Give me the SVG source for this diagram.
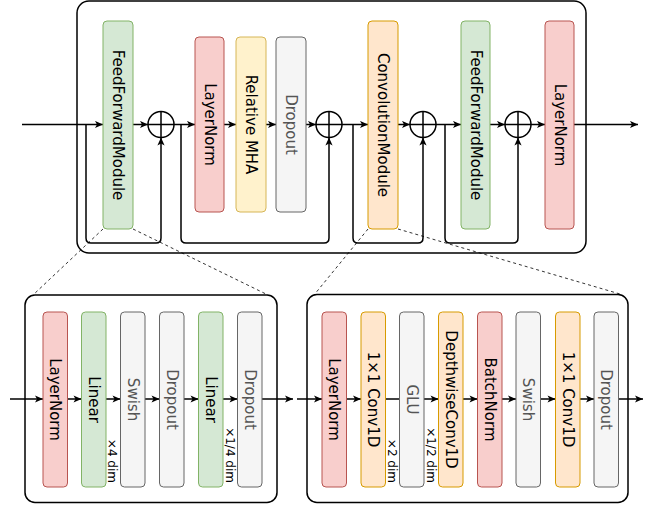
<svg xmlns="http://www.w3.org/2000/svg" width="652" height="505" viewBox="0 0 652 505">
<style>
.red{fill:#f8cecc;stroke:#b85450;stroke-width:1}
.green{fill:#d5e8d4;stroke:#82b366;stroke-width:1}
.yellow{fill:#fff2cc;stroke:#d6b656;stroke-width:1}
.orange{fill:#ffe6cc;stroke:#d79b00;stroke-width:1}
.gray{fill:#f5f5f5;stroke:#666666;stroke-width:1}
.cont{fill:#fff;stroke:#000;stroke-width:1.5}
.lbl{font-family:"DejaVu Sans",Verdana,sans-serif;font-size:15px;text-anchor:middle;dominant-baseline:central;fill:#000}
.glbl{fill:#555}
.dim{font-family:"DejaVu Sans",Verdana,sans-serif;font-size:12px;text-anchor:end;fill:#000}
.conn{fill:none;stroke:#000;stroke-width:1.5}
.arr{marker-end:url(#ah)}
.dash{fill:none;stroke:#000;stroke-width:0.8;stroke-dasharray:3 3}
.sum{fill:#fff;stroke:#000;stroke-width:1.5}
</style>
<defs>
<marker id="ah" viewBox="0 0 10 10" refX="10" refY="5" markerWidth="9" markerHeight="8" markerUnits="userSpaceOnUse" orient="auto">
<path d="M0,0.5 L10,5 L0,9.5 L2.5,5 Z" fill="#000"/>
</marker>
</defs>

<g id="containers">
<rect id="encoder" class="cont" x="77" y="1" width="509" height="252" rx="12"/>
<rect id="ffm-detail" class="cont" x="25" y="295" width="252" height="207.5" rx="10"/>
<rect id="conv-detail" class="cont" x="307" y="294.5" width="321" height="208" rx="10"/>
</g>

<g id="dashes">
<path class="dash" d="M103,229 L33,295"/>
<path class="dash" d="M133,229 L268,295"/>
<path class="dash" d="M368,229 L314,295"/>
<path class="dash" d="M398,229 L620,294"/>
</g>

<g id="connectors">
<path class="conn arr" d="M22,124.5 H103"/>
<path class="conn arr" d="M133,124.5 H148"/>
<path class="conn arr" d="M174,124.5 H195"/>
<path class="conn arr" d="M224,124.5 H236"/>
<path class="conn arr" d="M266,124.5 H276"/>
<path class="conn arr" d="M306,124.5 H316"/>
<path class="conn arr" d="M342,124.5 H368"/>
<path class="conn arr" d="M398,124.5 H410"/>
<path class="conn arr" d="M436,124.5 H461"/>
<path class="conn arr" d="M490,124.5 H505"/>
<path class="conn arr" d="M531,124.5 H545"/>
<path class="conn arr" d="M574,124.5 H638"/>
<path class="conn arr" d="M86,124.5 V238 Q86,243 91,243 H156 Q161,243 161,238 V137.5"/>
<path class="conn arr" d="M181,124.5 V238 Q181,243 186,243 H324 Q329,243 329,238 V137.5"/>
<path class="conn arr" d="M353,124.5 V238 Q353,243 358,243 H418 Q423,243 423,238 V137.5"/>
<path class="conn arr" d="M445,124.5 V238 Q445,243 450,243 H513 Q518,243 518,238 V137.5"/>

<path class="conn arr" d="M10,399 H43"/>
<path class="conn arr" d="M67.5,399 H81.5"/>
<path class="conn arr" d="M106,399 H120.5"/>
<path class="conn arr" d="M145,399 H159.5"/>
<path class="conn arr" d="M184,399 H198.5"/>
<path class="conn arr" d="M223,399 H237.5"/>
<path class="conn arr" d="M262,399 H293"/>
<path class="conn arr" d="M297,399 H322"/>

<path class="conn arr" d="M346.5,399 H361"/>
<path class="conn" d="M385.5,399 H399.5"/>
<path class="conn arr" d="M424,399 H438.5"/>
<path class="conn arr" d="M463,399 H477.5"/>
<path class="conn arr" d="M502,399 H516"/>
<path class="conn arr" d="M540.5,399 H555.5"/>
<path class="conn arr" d="M580,399 H594"/>
<path class="conn arr" d="M618.5,399 H643"/>
</g>

<g id="ffm1"><rect class="green" x="103" y="21" width="30" height="208" rx="4"/><text class="lbl" transform="translate(118,125) rotate(90)">FeedForwardModule</text></g>
<g id="sum1"><circle class="sum" cx="161" cy="124.5" r="13"/><path class="conn" d="M148,124.5 H174 M161,111.5 V137.5"/></g>
<g id="ln1"><rect class="red" x="195" y="37" width="29" height="175" rx="4"/><text class="lbl" transform="translate(209.5,124.5) rotate(90)">LayerNorm</text></g>
<g id="mha"><rect class="yellow" x="236" y="37" width="30" height="175" rx="4"/><text class="lbl" transform="translate(251,124.5) rotate(90)">Relative MHA</text></g>
<g id="drop1"><rect class="gray" x="276" y="37" width="30" height="175" rx="4"/><text class="lbl glbl" transform="translate(291,124.5) rotate(90)">Dropout</text></g>
<g id="sum2"><circle class="sum" cx="329" cy="124.5" r="13"/><path class="conn" d="M316,124.5 H342 M329,111.5 V137.5"/></g>
<g id="convmod"><rect class="orange" x="368" y="21" width="30" height="208" rx="4"/><text class="lbl" transform="translate(383,125) rotate(90)">ConvolutionModule</text></g>
<g id="sum3"><circle class="sum" cx="423" cy="124.5" r="13"/><path class="conn" d="M410,124.5 H436 M423,111.5 V137.5"/></g>
<g id="ffm2"><rect class="green" x="461" y="21" width="29" height="208" rx="4"/><text class="lbl" transform="translate(475.5,125) rotate(90)">FeedForwardModule</text></g>
<g id="sum4"><circle class="sum" cx="518" cy="124.5" r="13"/><path class="conn" d="M505,124.5 H531 M518,111.5 V137.5"/></g>
<g id="ln2"><rect class="red" x="545" y="21" width="29" height="208" rx="4"/><text class="lbl" transform="translate(559.5,125) rotate(90)">LayerNorm</text></g>

<g id="f-ln"><rect class="red" x="43" y="312" width="24.5" height="175" rx="4"/><text class="lbl" transform="translate(55.25,399.5) rotate(90)">LayerNorm</text></g>
<g id="f-lin1"><rect class="green" x="81.5" y="312" width="24.5" height="175" rx="4"/><text class="lbl" transform="translate(93.75,399.5) rotate(90)">Linear</text></g>
<g id="f-swish"><rect class="gray" x="120.5" y="312" width="24.5" height="175" rx="4"/><text class="lbl glbl" transform="translate(132.75,399.5) rotate(90)">Swish</text></g>
<g id="f-drop1"><rect class="gray" x="159.5" y="312" width="24.5" height="175" rx="4"/><text class="lbl glbl" transform="translate(171.75,399.5) rotate(90)">Dropout</text></g>
<g id="f-lin2"><rect class="green" x="198.5" y="312" width="24.5" height="175" rx="4"/><text class="lbl" transform="translate(210.75,399.5) rotate(90)">Linear</text></g>
<g id="f-drop2"><rect class="gray" x="237.5" y="312" width="24.5" height="175" rx="4"/><text class="lbl glbl" transform="translate(249.75,399.5) rotate(90)">Dropout</text></g>
<text class="dim" transform="translate(108,483) rotate(90)">×4 dim</text>
<text class="dim" transform="translate(225.5,483) rotate(90)">×1/4 dim</text>

<g id="c-ln"><rect class="red" x="322" y="312" width="24.5" height="175" rx="4"/><text class="lbl" transform="translate(334.25,399.5) rotate(90)">LayerNorm</text></g>
<g id="c-pw1"><rect class="orange" x="361" y="312" width="24.5" height="175" rx="4"/><text class="lbl" transform="translate(373.25,399.5) rotate(90)">1×1 Conv1D</text></g>
<g id="c-glu"><rect class="gray" x="399.5" y="312" width="24.5" height="175" rx="4"/><text class="lbl glbl" transform="translate(411.75,399.5) rotate(90)">GLU</text></g>
<g id="c-dw"><rect class="orange" x="438.5" y="312" width="24.5" height="175" rx="4"/><text class="lbl" transform="translate(450.75,399.5) rotate(90)">DepthwiseConv1D</text></g>
<g id="c-bn"><rect class="red" x="477.5" y="312" width="24.5" height="175" rx="4"/><text class="lbl" transform="translate(489.75,399.5) rotate(90)">BatchNorm</text></g>
<g id="c-swish"><rect class="gray" x="516" y="312" width="24.5" height="175" rx="4"/><text class="lbl glbl" transform="translate(528.25,399.5) rotate(90)">Swish</text></g>
<g id="c-pw2"><rect class="orange" x="555.5" y="312" width="24.5" height="175" rx="4"/><text class="lbl" transform="translate(567.75,399.5) rotate(90)">1×1 Conv1D</text></g>
<g id="c-drop"><rect class="gray" x="594" y="312" width="24.5" height="175" rx="4"/><text class="lbl glbl" transform="translate(606.25,399.5) rotate(90)">Dropout</text></g>
<text class="dim" transform="translate(387.5,483) rotate(90)">×2 dim</text>
<text class="dim" transform="translate(427,483) rotate(90)">×1/2 dim</text>
</svg>
